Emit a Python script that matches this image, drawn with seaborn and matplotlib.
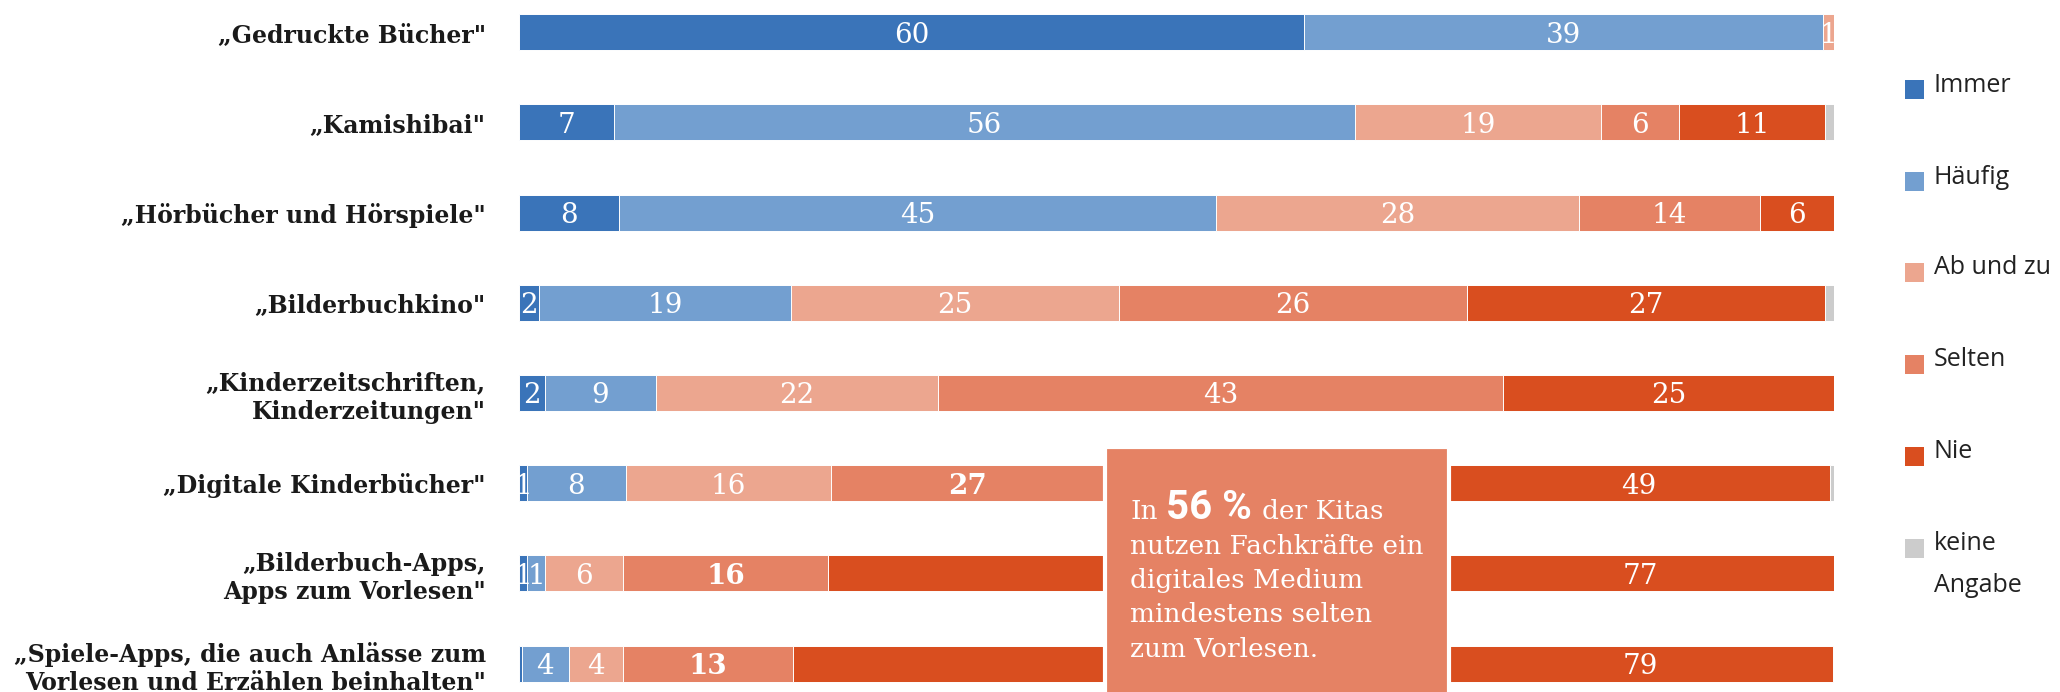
import matplotlib
matplotlib.use("Agg")
import matplotlib.pyplot as plt
import seaborn as sns
import pandas as pd
from matplotlib.patches import Rectangle

# ---------------- data ----------------
categories = [
    '„Gedruckte Bücher"',
    '„Kamishibai"',
    '„Hörbücher und Hörspiele"',
    '„Bilderbuchkino"',
    '„Kinderzeitschriften,\nKinderzeitungen"',
    '„Digitale Kinderbücher"',
    '„Bilderbuch-Apps,\nApps zum Vorlesen"',
    '„Spiele-Apps, die auch Anlässe zum\nVorlesen und Erzählen beinhalten"',
]
series = ["Immer", "Häufig", "Ab und zu", "Selten", "Nie", "keine Angabe"]

immer        = [59.7, 7.2, 7.6, 1.5, 2.0, 0.6, 0.6, 0.2]
haeufig      = [39.5, 56.4, 45.4, 19.2, 8.4, 7.5, 1.4, 3.6]
ab_und_zu    = [0.8, 18.7, 27.6, 24.9, 21.5, 15.6, 5.9, 4.1]
selten       = [0.0, 5.9, 13.8, 26.5, 42.9, 27.2, 15.6, 12.9]
nie          = [0.0, 11.1, 5.6, 27.2, 25.2, 48.8, 76.5, 79.1]
keine_angabe = [0.0, 0.7, 0.0, 0.7, 0.0, 0.3, 0.0, 0.0]

labels_immer   = ["60", "7", "8", "2", "2", "1", "1", ""]
labels_haeufig = ["39", "56", "45", "19", "9", "8", "1", "4"]
labels_ab      = ["1", "19", "28", "25", "22", "16", "6", "4"]
labels_selten  = ["", "6", "14", "26", "43", "27", "16", "13"]
labels_nie     = ["", "11", "6", "27", "25", "49", "77", "79"]
labels_keine   = ["", "", "", "", "", "", "", ""]

annotation_value = "56 %"
annotation_lines = ["nutzen Fachkräfte ein", "digitales Medium",
                    "mindestens selten", "zum Vorlesen."]

# ---------------- style ----------------
colors = ["#3a74b9", "#739fd0", "#eca68f", "#e58264", "#d94e1f", "#cccccc"]
box_color = "#e58264"
bold_labels = {(5, 3), (6, 3), (7, 3)}
BOX_X0, BOX_X1 = 44.5, 70.6      # annotation box extent in data units
W, H = 2060, 692
SERIF = ["DejaVu Serif", "DejaVu Sans"]

sns.set_theme(style="white")
plt.rcParams["font.family"] = SERIF

fig = plt.figure(figsize=(W / 100, H / 100), dpi=100)
ax = fig.add_axes([519 / W, 0, (1834 - 519) / W, 1])

values = [immer, haeufig, ab_und_zu, selten, nie, keine_angabe]
labels = [labels_immer, labels_haeufig, labels_ab, labels_selten, labels_nie, labels_keine]

df = pd.DataFrame({"cat": categories})
cum = []
running = [0.0] * len(categories)
for v in values:
    running = [r + x for r, x in zip(running, v)]
    cum.append(list(running))

for k in reversed(range(len(series))):
    d = df.copy()
    d["val"] = cum[k]
    sns.barplot(data=d, x="val", y="cat", order=categories, orient="h",
                color=colors[k], saturation=1, width=0.4, ax=ax,
                edgecolor="white", linewidth=0.7, errorbar=None)

ax.set_xlim(0, 100)
ax.set_ylim(7.315, -0.357)
ax.set_xlabel("")
ax.set_ylabel("")
ax.set_xticks([])
for s in ax.spines.values():
    s.set_visible(False)
ax.tick_params(axis="y", length=0, pad=24)
for t in ax.get_yticklabels():
    t.set_fontsize(17)
    t.set_fontweight("bold")
    t.set_color("#1a1a1a")
    t.set_linespacing(1.22)
    t.set_family(SERIF)

# value labels
for k in range(len(series)):
    for i in range(len(categories)):
        lab = labels[k][i]
        if not lab:
            continue
        start = cum[k][i] - values[k][i]
        end = cum[k][i]
        if i >= 5:
            if end > BOX_X1:
                start = max(start, BOX_X1)
            elif end > BOX_X0:
                end = min(end, BOX_X0)
        xc = (start + end) / 2
        ax.text(xc, i, lab, ha="center", va="center_baseline", color="white",
                fontsize=20,
                fontweight="bold" if (i, k) in bold_labels else "normal",
                family=SERIF)

# legend (manual)
LEG_FONT = ["Open Sans", "DejaVu Sans"]
leg_y = [89, 181, 272, 364, 456, 548]
for k, name in enumerate(series):
    cy = leg_y[k]
    fig.patches.append(Rectangle((1905 / W, 1 - (cy + 10) / H), 19 / W, 19 / H,
                                 transform=fig.transFigure, facecolor=colors[k],
                                 edgecolor="none"))
    if name == "keine Angabe":
        fig.text(1934 / W, 1 - (cy - 4) / H, "keine", ha="left", va="center",
                 fontsize=18, color="#222222", family=LEG_FONT)
        fig.text(1934 / W, 1 - (cy + 38) / H, "Angabe", ha="left", va="center",
                 fontsize=18, color="#222222", family=LEG_FONT)
    else:
        fig.text(1934 / W, 1 - (cy - 4) / H, name, ha="left", va="center",
                 fontsize=18, color="#222222", family=LEG_FONT)

# annotation box
box = Rectangle((1105 / W, -0.05), (1449 - 1105) / W, 1.05 - 447 / H,
                transform=fig.transFigure, facecolor=box_color,
                edgecolor="white", linewidth=3, zorder=5)
fig.patches.append(box)

renderer = fig.canvas.get_renderer()
x0 = 1130
base1 = 519
t1 = fig.text(x0 / W, 1 - base1 / H, "In", ha="left", va="baseline",
              fontsize=19, color="white", zorder=6, family=SERIF)
bb = t1.get_window_extent(renderer)
t2 = fig.text((bb.x1 + 9) / W, 1 - base1 / H, annotation_value, ha="left",
              va="baseline", fontsize=29, fontweight="bold", color="white",
              zorder=6, family=["Roboto", "DejaVu Sans"])
bb = t2.get_window_extent(renderer)
fig.text((bb.x1 + 10) / W, 1 - base1 / H, "der Kitas", ha="left",
         va="baseline", fontsize=19, color="white", zorder=6, family=SERIF)
for j, line in enumerate(annotation_lines):
    fig.text(x0 / W, 1 - (base1 + 34.5 * (j + 1)) / H, line, ha="left",
             va="baseline", fontsize=19, color="white", zorder=6, family=SERIF)

fig.savefig("out.png", dpi=100)
